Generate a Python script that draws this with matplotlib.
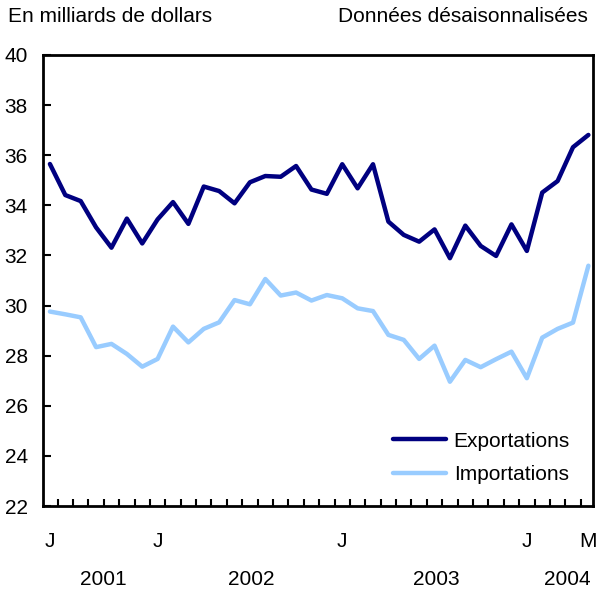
import numpy as np
import matplotlib
matplotlib.use("Agg")
import matplotlib.pyplot as plt
import matplotlib.transforms as mtransforms

plt.rcParams['font.family'] = ['Liberation Sans', 'DejaVu Sans']

# monthly, June 2001 -> May 2004
exports = [35.65, 34.41, 34.17, 33.12, 32.31, 33.47, 32.48, 33.44, 34.13, 33.26,
           34.75, 34.57, 34.08, 34.92, 35.17, 35.14, 35.57, 34.63, 34.46, 35.64,
           34.68, 35.64, 33.35, 32.82, 32.55, 33.04, 31.89, 33.19, 32.38, 31.98,
           33.24, 32.18, 34.51, 34.97, 36.32, 36.81]
imports = [29.76, 29.65, 29.53, 28.34, 28.47, 28.07, 27.56, 27.87, 29.16, 28.53,
           29.07, 29.33, 30.22, 30.05, 31.06, 30.40, 30.52, 30.20, 30.42, 30.29,
           29.89, 29.78, 28.83, 28.63, 27.87, 28.40, 26.96, 27.83, 27.54, 27.86,
           28.16, 27.10, 28.72, 29.07, 29.32, 31.59]
month_pos = [0, 7, 19, 31, 35]
month_labels = ['J', 'J', 'J', 'J', 'M']
year_pos = [3.5, 13.1, 25.1, 33.6]
year_labels = ['2001', '2002', '2003', '2004']
y_ticks = list(range(22, 41, 2))

fs = 15
fig = plt.figure(figsize=(6.02, 6.04), dpi=100)
ax = fig.add_axes([43 / 602, 1 - 506 / 604, 550 / 602, 451 / 604])

x = np.arange(len(exports))
ax.plot(x, exports, color='#000080', lw=3.2, label='Exportations', solid_capstyle='round')
ax.plot(x, imports, color='#99ccff', lw=3.2, label='Importations', solid_capstyle='round')

ax.set_xlim(-0.45, 35.3)
ax.set_ylim(22, 40)
ax.set_yticks(y_ticks)
ax.set_yticklabels([str(v) for v in y_ticks], fontsize=fs)
ax.tick_params(axis='y', direction='in', length=6, width=1.5, pad=11)

ax.set_xticks(month_pos)
ax.set_xticklabels(month_labels, fontsize=fs)
ax.set_xticks(np.arange(0.5, 35, 1), minor=True)
ax.tick_params(axis='x', which='major', length=0, pad=19)
ax.tick_params(axis='x', which='minor', direction='in', length=5, width=1.5)

trans = mtransforms.blended_transform_factory(ax.transData, ax.transAxes)
for p, lab in zip(year_pos, year_labels):
    ax.text(p, -0.162, lab, transform=trans, ha='center', va='center', fontsize=fs)

for s in ax.spines.values():
    s.set_linewidth(2)

fig.text(8 / 602, 1 - 17 / 604, 'En milliards de dollars', ha='left', va='center', fontsize=fs)
fig.text(588 / 602, 1 - 17 / 604, 'Données désaisonnalisées', ha='right', va='center', fontsize=fs)

ax.legend(loc='lower right', bbox_to_anchor=(0.958, 0.049), frameon=False, fontsize=fs,
          handlelength=2.55, handletextpad=0.35, labelspacing=0.69, borderpad=0,
          borderaxespad=0)

fig.savefig('out.png', dpi=100)
